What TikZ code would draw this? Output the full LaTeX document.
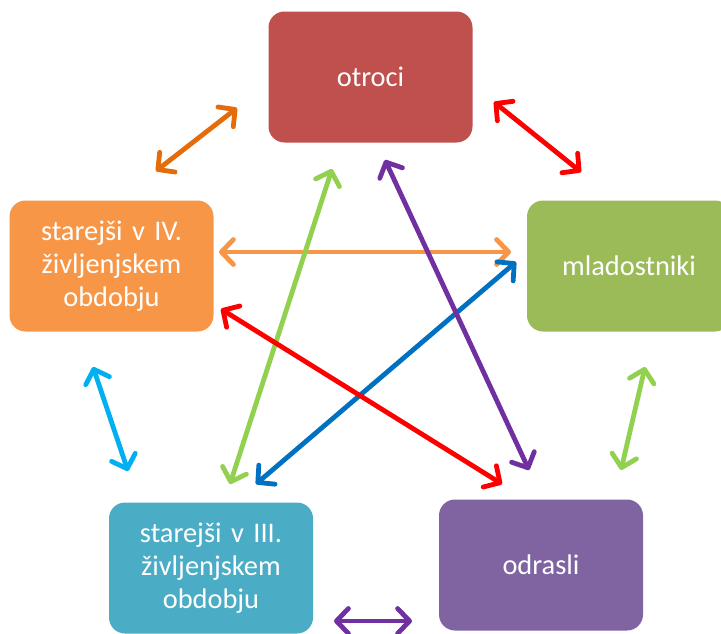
\documentclass[tikz,border=0pt]{standalone}
\usepackage{fontspec}
\setmainfont{Carlito}
\usetikzlibrary{arrows.meta}

\definecolor{otrociRed}{HTML}{C0504D}
\definecolor{mladGreen}{HTML}{9BBB59}
\definecolor{odrasliPurple}{HTML}{8064A2}
\definecolor{tretjiTeal}{HTML}{4BACC6}
\definecolor{cetrtiOrange}{HTML}{F79646}
\definecolor{arrDarkOrange}{HTML}{E46C0A}
\definecolor{arrRed}{HTML}{FF0000}
\definecolor{arrBlue}{HTML}{0070C0}
\definecolor{arrGreen}{HTML}{92D050}
\definecolor{arrPurple}{HTML}{7030A0}
\definecolor{arrCyan}{HTML}{00B0F0}

\begin{document}
\begin{tikzpicture}[
  x=0.5pt, y=-0.5pt,
  stage/.style={
    rectangle, rounded corners=8pt,
    draw=none, text=white,
    text width=98pt, align=center,
    minimum width=102pt, minimum height=65.5pt,
    inner sep=0pt, font=\fontsize{14.2}{16.5}\selectfont
  },
  barb/.tip={Straight Barb[length=6pt, width=12.5pt, round]},
  link/.style={barb-barb, line width=2.4pt, line cap=round},
]

\useasboundingbox (0,0) rectangle (721,633);

%% Nodes
\node[stage, fill=otrociRed] (otroci) at (370.5, 77) {otroci};
\node[stage, fill=mladGreen] (mlad) at (629, 266) {mladostniki};
\node[stage, fill=odrasliPurple] (odrasli) at (541, 565) {odrasli};
\node[stage, fill=tretjiTeal] (tretji) at (211, 568) {starejši v III.\\življenjskem\\obdobju};
\node[stage, fill=cetrtiOrange] (cetrti) at (111.5, 266) {starejši v IV.\\življenjskem\\obdobju};

%% Connector ends
\coordinate (c1a) at (156, 171);  \coordinate (c1b) at (237, 108);
\coordinate (c2a) at (494, 102);  \coordinate (c2b) at (581, 172);
\coordinate (c3a) at (219, 252);  \coordinate (c3b) at (511, 252);
\coordinate (c4a) at (334, 621);  \coordinate (c4b) at (412, 621);
\coordinate (c5a) at (93, 367);   \coordinate (c5b) at (128, 471);
\coordinate (c6a) at (645, 367);  \coordinate (c6b) at (621, 470);
\coordinate (c7a) at (332, 169);  \coordinate (c7b) at (230, 484);
\coordinate (c8a) at (516, 262);  \coordinate (c8b) at (256, 484);
\coordinate (c9a) at (221, 309);  \coordinate (c9b) at (502, 484);
\coordinate (c10a) at (385, 160); \coordinate (c10b) at (529, 470);

%% Connectors
\draw[link, arrDarkOrange] (c1a) -- (c1b);
\draw[link, arrRed] (c2a) -- (c2b);
\draw[link, cetrtiOrange] (c3a) -- (c3b);
\draw[link, arrPurple] (c4a) -- (c4b);
\draw[link, arrCyan] (c5a) -- (c5b);
\draw[link, arrGreen] (c6a) -- (c6b);
\draw[link, arrGreen] (c7a) -- (c7b);
\draw[link, arrBlue] (c8a) -- (c8b);
\draw[link, arrRed] (c9a) -- (c9b);
\draw[link, arrPurple] (c10a) -- (c10b);

\end{tikzpicture}
\end{document}
